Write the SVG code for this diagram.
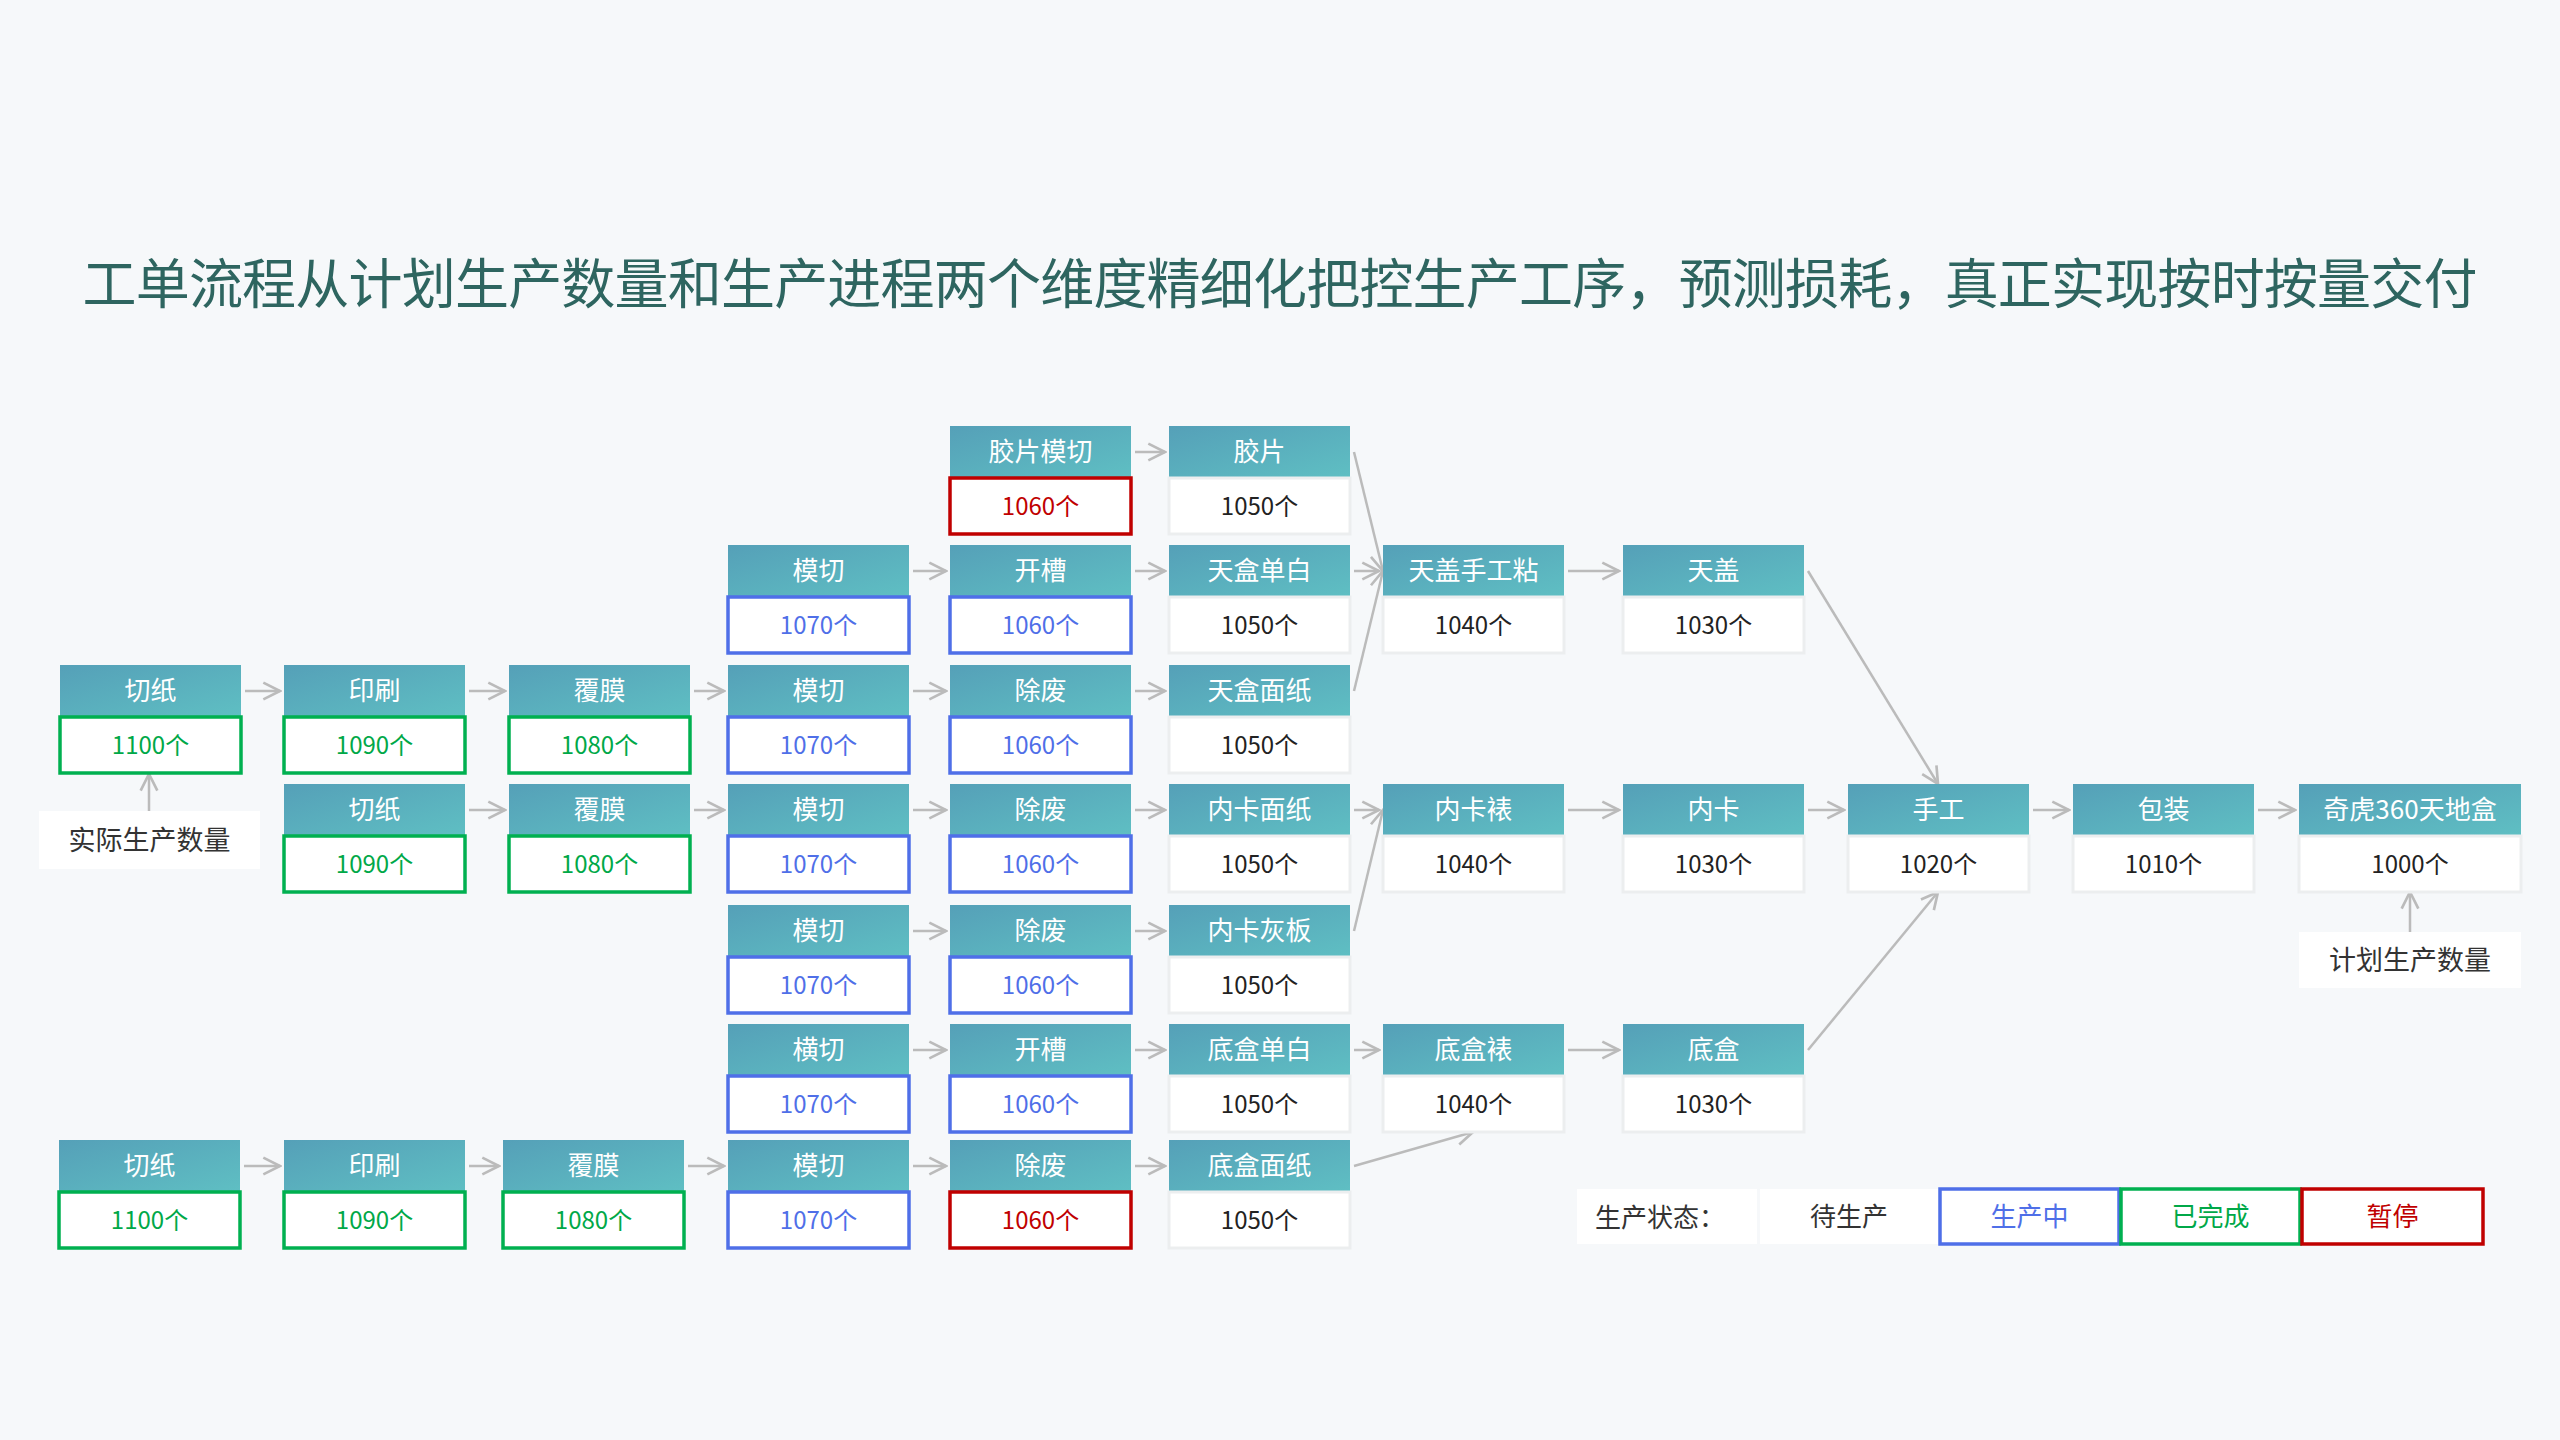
<svg xmlns="http://www.w3.org/2000/svg" width="2560" height="1440" viewBox="0 0 2560 1440">
<defs>
<linearGradient id="hg" x1="0" y1="0" x2="1" y2="1"><stop offset="0" stop-color="#55a0b8"/><stop offset="1" stop-color="#5fbfc3"/></linearGradient>
<marker id="ar" markerUnits="userSpaceOnUse" markerWidth="20" markerHeight="20" viewBox="0 0 12 12" refX="11" refY="6" orient="auto"><path d="M1,1 L11,6 L1,11" fill="none" stroke="#bbb" stroke-width="1.6"/></marker>
<style>
text{font-family:"Noto Sans CJK SC","Liberation Sans",sans-serif;text-anchor:middle}
.hd{fill:url(#hg)}
.ht{fill:#fff;font-size:26px}
.vb{fill:#fff;stroke:#eceeef;stroke-width:3}
.vt{fill:#222;font-size:24px}
.g{stroke:#00b050}.b{stroke:#4f6fe8}.r{stroke:#c00000}
.vb.g,.vb.b,.vb.r{stroke-width:3.5}
.tg{fill:#00a848}.tb{fill:#4f6fe8}.tr{fill:#c00000}
.c path,.c line{stroke:#bbb;stroke-width:2.5;fill:none;marker-end:url(#ar)}
</style>
</defs>
<rect width="2560" height="1440" fill="#f6f8fa"/>
<text x="1280" y="304" style="font-size:54px;fill:#2e6560" textLength="2395">工单流程从计划生产数量和生产进程两个维度精细化把控生产工序，预测损耗，真正实现按时按量交付</text>

<g class="c">
<line x1="1135" y1="452" x2="1165" y2="452"/>
<line x1="913" y1="571" x2="946" y2="571"/><line x1="1135" y1="571" x2="1165" y2="571"/><line x1="1354" y1="571" x2="1379" y2="571"/><line x1="1568" y1="571" x2="1619" y2="571"/>
<line x1="245" y1="691" x2="280" y2="691"/><line x1="469" y1="691" x2="505" y2="691"/><line x1="694" y1="691" x2="724" y2="691"/><line x1="913" y1="691" x2="946" y2="691"/><line x1="1135" y1="691" x2="1165" y2="691"/>
<line x1="469" y1="810" x2="505" y2="810"/><line x1="694" y1="810" x2="724" y2="810"/><line x1="913" y1="810" x2="946" y2="810"/><line x1="1135" y1="810" x2="1165" y2="810"/><line x1="1354" y1="810" x2="1379" y2="810"/><line x1="1568" y1="810" x2="1619" y2="810"/><line x1="1808" y1="810" x2="1844" y2="810"/><line x1="2033" y1="810" x2="2069" y2="810"/><line x1="2258" y1="810" x2="2295" y2="810"/>
<line x1="913" y1="931" x2="946" y2="931"/><line x1="1135" y1="931" x2="1165" y2="931"/>
<line x1="913" y1="1050" x2="946" y2="1050"/><line x1="1135" y1="1050" x2="1165" y2="1050"/><line x1="1354" y1="1050" x2="1379" y2="1050"/><line x1="1568" y1="1050" x2="1619" y2="1050"/>
<line x1="244" y1="1166" x2="280" y2="1166"/><line x1="469" y1="1166" x2="499" y2="1166"/><line x1="688" y1="1166" x2="724" y2="1166"/><line x1="913" y1="1166" x2="946" y2="1166"/><line x1="1135" y1="1166" x2="1165" y2="1166"/>
<line x1="1354" y1="452" x2="1383" y2="571"/><line x1="1354" y1="691" x2="1383" y2="571"/>
<line x1="1354" y1="931" x2="1383" y2="810"/>
<line x1="1354" y1="1166" x2="1473" y2="1132"/>
<line x1="1808" y1="571" x2="1938" y2="784"/><line x1="1808" y1="1050" x2="1938" y2="892"/>
<line x1="149" y1="811" x2="149" y2="774"/>
<line x1="2410" y1="932" x2="2410" y2="892"/>
</g>

<g id="n01"><rect class="hd" x="950" y="426" width="181" height="52"/><text class="ht" x="1040.5" y="461">胶片模切</text><rect class="vb r" x="950" y="478" width="181" height="56"/><text class="vt tr" x="1040.5" y="515">1060个</text></g>
<g id="n02"><rect class="hd" x="1169" y="426" width="181" height="52"/><text class="ht" x="1259.5" y="461">胶片</text><rect class="vb" x="1169" y="478" width="181" height="56"/><text class="vt" x="1259.5" y="515">1050个</text></g>

<g id="n11"><rect class="hd" x="728" y="545" width="181" height="52"/><text class="ht" x="818.5" y="580">模切</text><rect class="vb b" x="728" y="597" width="181" height="56"/><text class="vt tb" x="818.5" y="634">1070个</text></g>
<g id="n12"><rect class="hd" x="950" y="545" width="181" height="52"/><text class="ht" x="1040.5" y="580">开槽</text><rect class="vb b" x="950" y="597" width="181" height="56"/><text class="vt tb" x="1040.5" y="634">1060个</text></g>
<g id="n13"><rect class="hd" x="1169" y="545" width="181" height="52"/><text class="ht" x="1259.5" y="580">天盒单白</text><rect class="vb" x="1169" y="597" width="181" height="56"/><text class="vt" x="1259.5" y="634">1050个</text></g>
<g id="n14"><rect class="hd" x="1383" y="545" width="181" height="52"/><text class="ht" x="1473.5" y="580">天盖手工粘</text><rect class="vb" x="1383" y="597" width="181" height="56"/><text class="vt" x="1473.5" y="634">1040个</text></g>
<g id="n15"><rect class="hd" x="1623" y="545" width="181" height="52"/><text class="ht" x="1713.5" y="580">天盖</text><rect class="vb" x="1623" y="597" width="181" height="56"/><text class="vt" x="1713.5" y="634">1030个</text></g>

<g id="n21"><rect class="hd" x="60" y="665" width="181" height="52"/><text class="ht" x="150.5" y="700">切纸</text><rect class="vb g" x="60" y="717" width="181" height="56"/><text class="vt tg" x="150.5" y="754">1100个</text></g>
<g id="n22"><rect class="hd" x="284" y="665" width="181" height="52"/><text class="ht" x="374.5" y="700">印刷</text><rect class="vb g" x="284" y="717" width="181" height="56"/><text class="vt tg" x="374.5" y="754">1090个</text></g>
<g id="n23"><rect class="hd" x="509" y="665" width="181" height="52"/><text class="ht" x="599.5" y="700">覆膜</text><rect class="vb g" x="509" y="717" width="181" height="56"/><text class="vt tg" x="599.5" y="754">1080个</text></g>
<g id="n24"><rect class="hd" x="728" y="665" width="181" height="52"/><text class="ht" x="818.5" y="700">模切</text><rect class="vb b" x="728" y="717" width="181" height="56"/><text class="vt tb" x="818.5" y="754">1070个</text></g>
<g id="n25"><rect class="hd" x="950" y="665" width="181" height="52"/><text class="ht" x="1040.5" y="700">除废</text><rect class="vb b" x="950" y="717" width="181" height="56"/><text class="vt tb" x="1040.5" y="754">1060个</text></g>
<g id="n26"><rect class="hd" x="1169" y="665" width="181" height="52"/><text class="ht" x="1259.5" y="700">天盒面纸</text><rect class="vb" x="1169" y="717" width="181" height="56"/><text class="vt" x="1259.5" y="754">1050个</text></g>

<g id="n31"><rect class="hd" x="284" y="784" width="181" height="52"/><text class="ht" x="374.5" y="819">切纸</text><rect class="vb g" x="284" y="836" width="181" height="56"/><text class="vt tg" x="374.5" y="873">1090个</text></g>
<g id="n32"><rect class="hd" x="509" y="784" width="181" height="52"/><text class="ht" x="599.5" y="819">覆膜</text><rect class="vb g" x="509" y="836" width="181" height="56"/><text class="vt tg" x="599.5" y="873">1080个</text></g>
<g id="n33"><rect class="hd" x="728" y="784" width="181" height="52"/><text class="ht" x="818.5" y="819">模切</text><rect class="vb b" x="728" y="836" width="181" height="56"/><text class="vt tb" x="818.5" y="873">1070个</text></g>
<g id="n34"><rect class="hd" x="950" y="784" width="181" height="52"/><text class="ht" x="1040.5" y="819">除废</text><rect class="vb b" x="950" y="836" width="181" height="56"/><text class="vt tb" x="1040.5" y="873">1060个</text></g>
<g id="n35"><rect class="hd" x="1169" y="784" width="181" height="52"/><text class="ht" x="1259.5" y="819">内卡面纸</text><rect class="vb" x="1169" y="836" width="181" height="56"/><text class="vt" x="1259.5" y="873">1050个</text></g>
<g id="n36"><rect class="hd" x="1383" y="784" width="181" height="52"/><text class="ht" x="1473.5" y="819">内卡裱</text><rect class="vb" x="1383" y="836" width="181" height="56"/><text class="vt" x="1473.5" y="873">1040个</text></g>
<g id="n37"><rect class="hd" x="1623" y="784" width="181" height="52"/><text class="ht" x="1713.5" y="819">内卡</text><rect class="vb" x="1623" y="836" width="181" height="56"/><text class="vt" x="1713.5" y="873">1030个</text></g>
<g id="n38"><rect class="hd" x="1848" y="784" width="181" height="52"/><text class="ht" x="1938.5" y="819">手工</text><rect class="vb" x="1848" y="836" width="181" height="56"/><text class="vt" x="1938.5" y="873">1020个</text></g>
<g id="n39"><rect class="hd" x="2073" y="784" width="181" height="52"/><text class="ht" x="2163.5" y="819">包装</text><rect class="vb" x="2073" y="836" width="181" height="56"/><text class="vt" x="2163.5" y="873">1010个</text></g>
<g id="n310"><rect class="hd" x="2299" y="784" width="222" height="52"/><text class="ht" x="2410" y="819">奇虎360天地盒</text><rect class="vb" x="2299" y="836" width="222" height="56"/><text class="vt" x="2410" y="873">1000个</text></g>

<g id="n41"><rect class="hd" x="728" y="905" width="181" height="52"/><text class="ht" x="818.5" y="940">模切</text><rect class="vb b" x="728" y="957" width="181" height="56"/><text class="vt tb" x="818.5" y="994">1070个</text></g>
<g id="n42"><rect class="hd" x="950" y="905" width="181" height="52"/><text class="ht" x="1040.5" y="940">除废</text><rect class="vb b" x="950" y="957" width="181" height="56"/><text class="vt tb" x="1040.5" y="994">1060个</text></g>
<g id="n43"><rect class="hd" x="1169" y="905" width="181" height="52"/><text class="ht" x="1259.5" y="940">内卡灰板</text><rect class="vb" x="1169" y="957" width="181" height="56"/><text class="vt" x="1259.5" y="994">1050个</text></g>

<g id="n51"><rect class="hd" x="728" y="1024" width="181" height="52"/><text class="ht" x="818.5" y="1059">横切</text><rect class="vb b" x="728" y="1076" width="181" height="56"/><text class="vt tb" x="818.5" y="1113">1070个</text></g>
<g id="n52"><rect class="hd" x="950" y="1024" width="181" height="52"/><text class="ht" x="1040.5" y="1059">开槽</text><rect class="vb b" x="950" y="1076" width="181" height="56"/><text class="vt tb" x="1040.5" y="1113">1060个</text></g>
<g id="n53"><rect class="hd" x="1169" y="1024" width="181" height="52"/><text class="ht" x="1259.5" y="1059">底盒单白</text><rect class="vb" x="1169" y="1076" width="181" height="56"/><text class="vt" x="1259.5" y="1113">1050个</text></g>
<g id="n54"><rect class="hd" x="1383" y="1024" width="181" height="52"/><text class="ht" x="1473.5" y="1059">底盒裱</text><rect class="vb" x="1383" y="1076" width="181" height="56"/><text class="vt" x="1473.5" y="1113">1040个</text></g>
<g id="n55"><rect class="hd" x="1623" y="1024" width="181" height="52"/><text class="ht" x="1713.5" y="1059">底盒</text><rect class="vb" x="1623" y="1076" width="181" height="56"/><text class="vt" x="1713.5" y="1113">1030个</text></g>

<g id="n61"><rect class="hd" x="59" y="1140" width="181" height="52"/><text class="ht" x="149.5" y="1175">切纸</text><rect class="vb g" x="59" y="1192" width="181" height="56"/><text class="vt tg" x="149.5" y="1229">1100个</text></g>
<g id="n62"><rect class="hd" x="284" y="1140" width="181" height="52"/><text class="ht" x="374.5" y="1175">印刷</text><rect class="vb g" x="284" y="1192" width="181" height="56"/><text class="vt tg" x="374.5" y="1229">1090个</text></g>
<g id="n63"><rect class="hd" x="503" y="1140" width="181" height="52"/><text class="ht" x="593.5" y="1175">覆膜</text><rect class="vb g" x="503" y="1192" width="181" height="56"/><text class="vt tg" x="593.5" y="1229">1080个</text></g>
<g id="n64"><rect class="hd" x="728" y="1140" width="181" height="52"/><text class="ht" x="818.5" y="1175">模切</text><rect class="vb b" x="728" y="1192" width="181" height="56"/><text class="vt tb" x="818.5" y="1229">1070个</text></g>
<g id="n65"><rect class="hd" x="950" y="1140" width="181" height="52"/><text class="ht" x="1040.5" y="1175">除废</text><rect class="vb r" x="950" y="1192" width="181" height="56"/><text class="vt tr" x="1040.5" y="1229">1060个</text></g>
<g id="n66"><rect class="hd" x="1169" y="1140" width="181" height="52"/><text class="ht" x="1259.5" y="1175">底盒面纸</text><rect class="vb" x="1169" y="1192" width="181" height="56"/><text class="vt" x="1259.5" y="1229">1050个</text></g>

<g id="lbl-actual"><rect x="39" y="811" width="221" height="58" fill="#fff"/><text x="149.5" y="850" style="font-size:27px;fill:#333">实际生产数量</text></g>
<g id="lbl-plan"><rect x="2299" y="932" width="222" height="56" fill="#fff"/><text x="2410" y="970" style="font-size:27px;fill:#333">计划生产数量</text></g>

<g id="legend">
<rect x="1577" y="1189" width="180" height="55" fill="#fff"/><text x="1660" y="1227" style="font-size:26px;fill:#333">生产状态：</text>
<rect x="1760" y="1189" width="178" height="55" fill="#fff"/><text x="1849" y="1226" style="font-size:26px;fill:#333">待生产</text>
<rect class="vb b" x="1940" y="1189" width="179" height="55"/><text class="tb" x="2029.5" y="1226" style="font-size:26px">生产中</text>
<rect class="vb g" x="2121" y="1189" width="179" height="55"/><text class="tg" x="2210.5" y="1226" style="font-size:26px">已完成</text>
<rect class="vb r" x="2302" y="1189" width="181" height="55"/><text class="tr" x="2392.5" y="1226" style="font-size:26px">暂停</text>
</g>
</svg>
